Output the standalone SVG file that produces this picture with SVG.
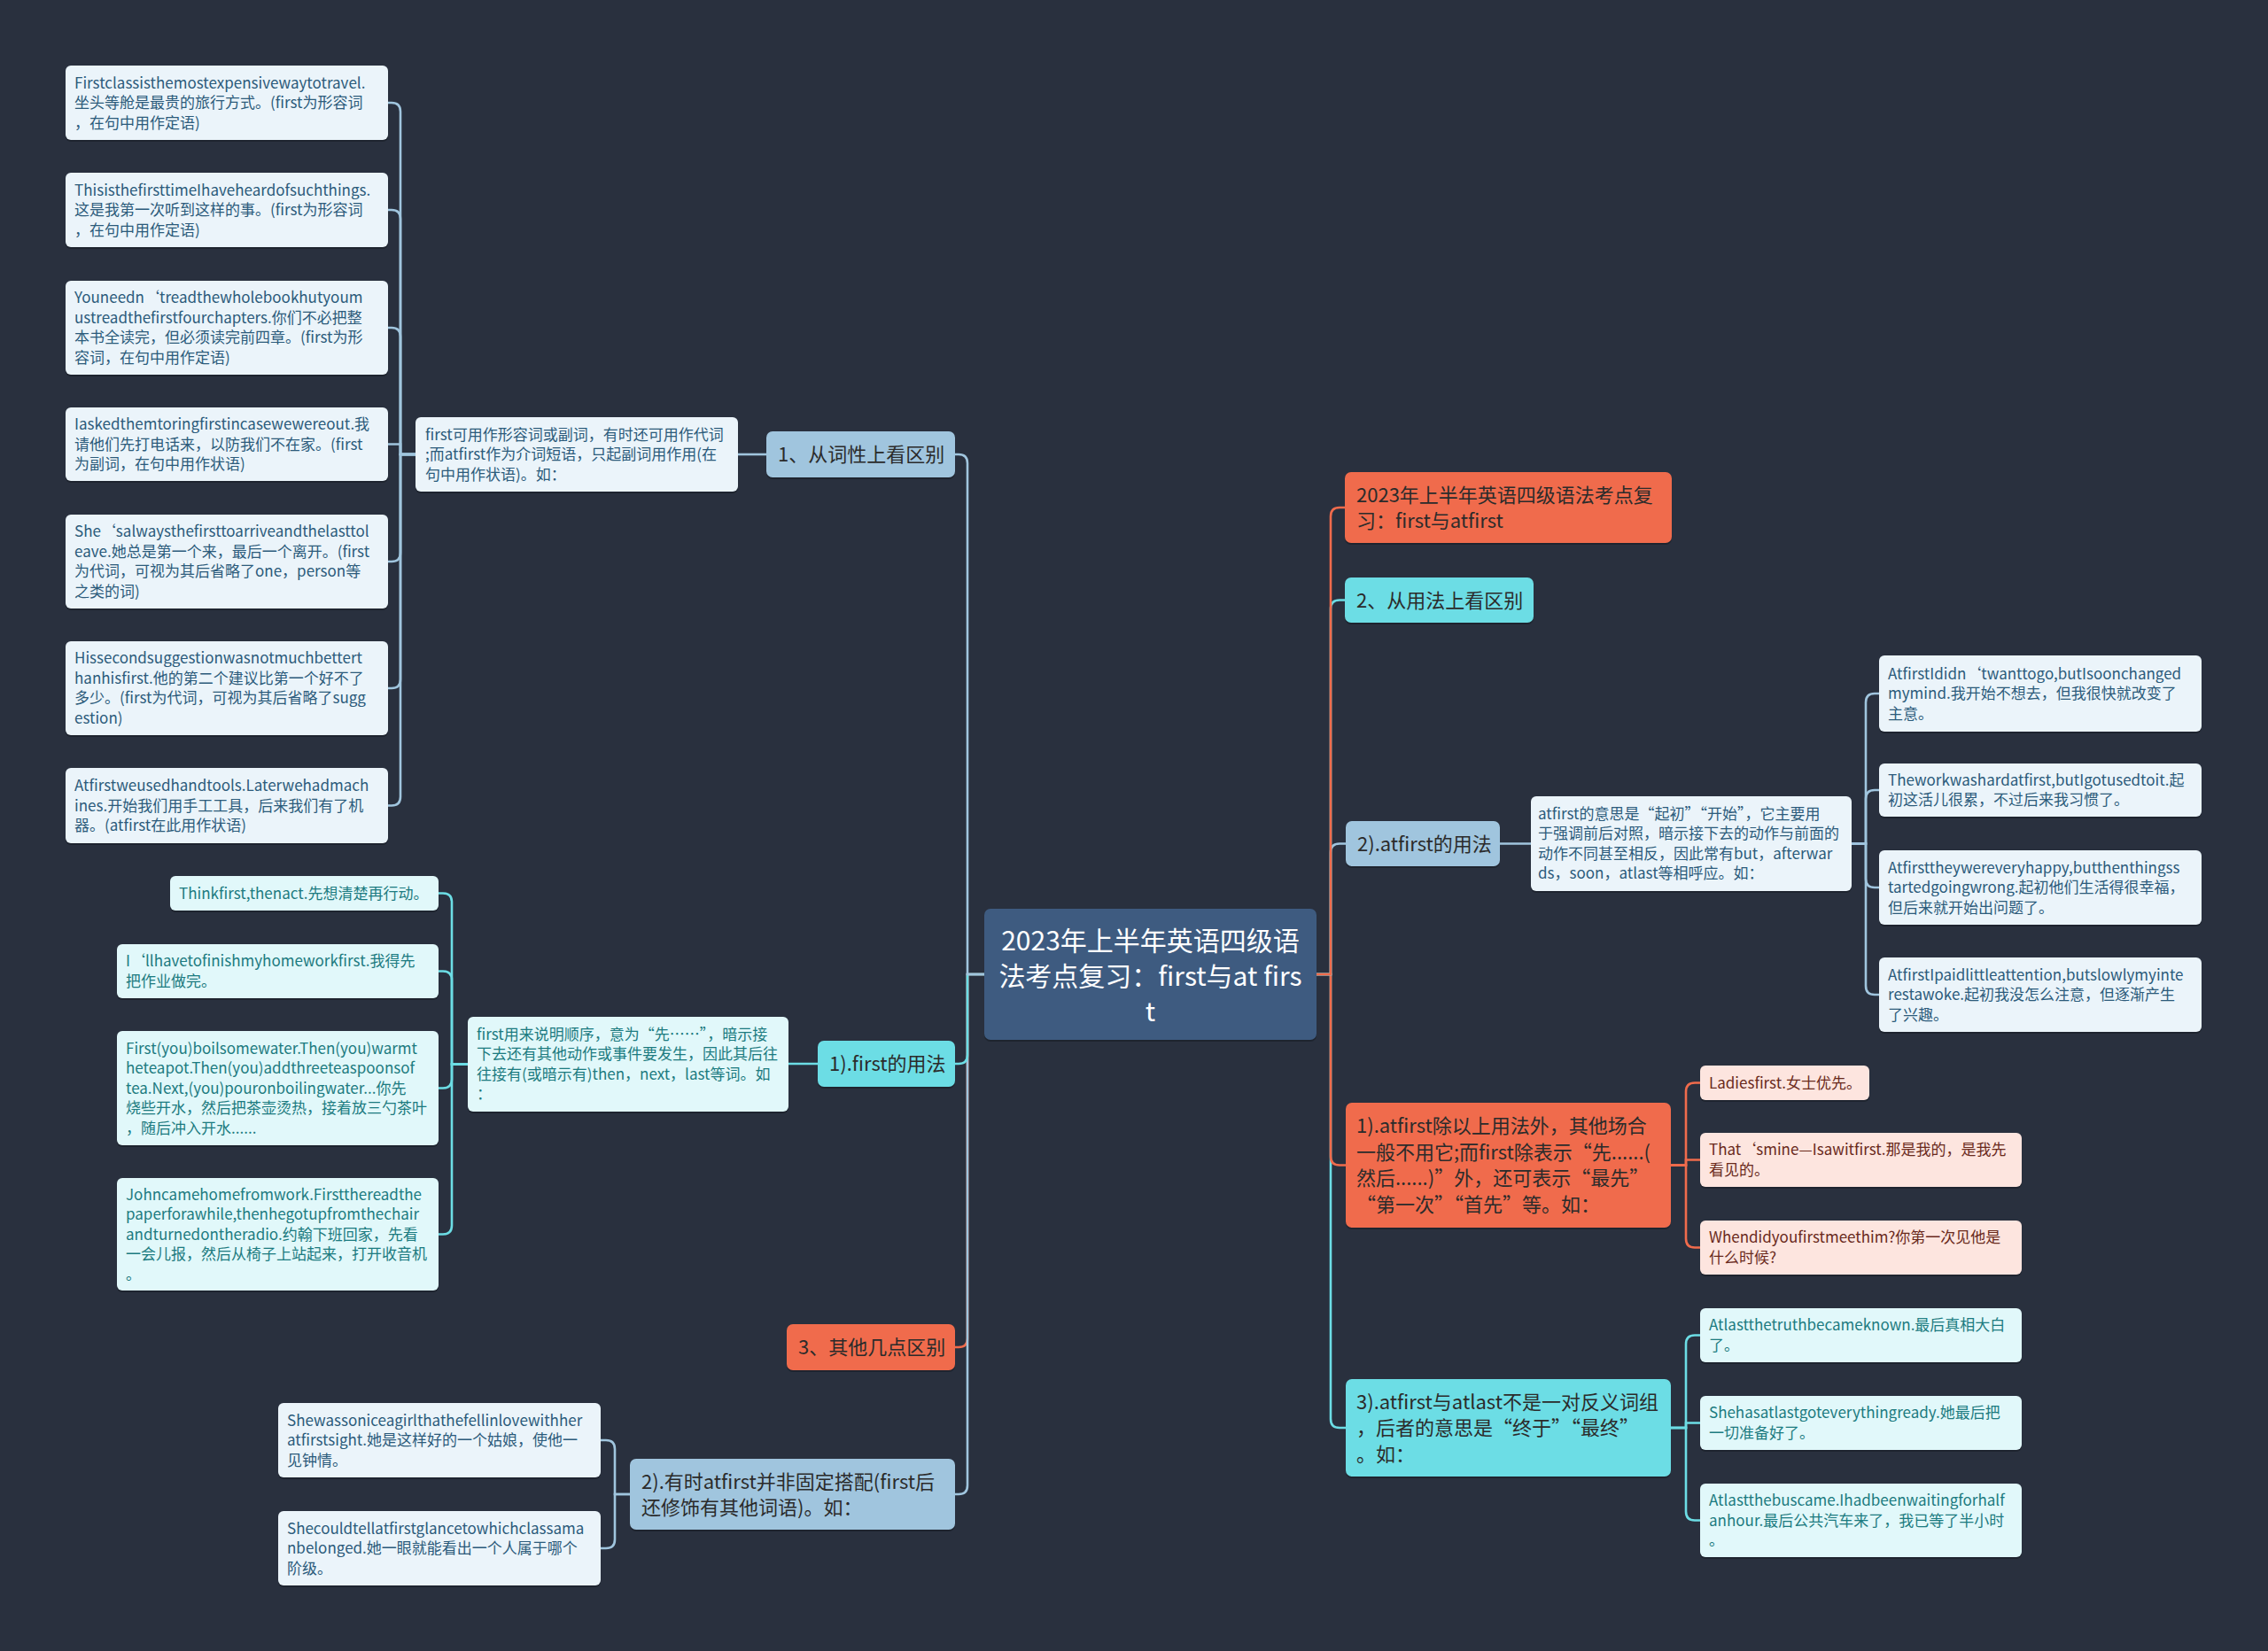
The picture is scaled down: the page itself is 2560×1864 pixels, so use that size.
<svg xmlns="http://www.w3.org/2000/svg" width="2560" height="1864" viewBox="0 0 2560 1864">
<style>
text{font-family:"Noto Sans CJK SC","Noto Sans",sans-serif;}
.s{font-size:17px;}
.m{font-size:22px;fill:#2b2b2b;}
.r{font-size:30px;fill:#ffffff;text-anchor:middle;}
.sh{fill:#161b23;opacity:0.55;}
.fb{fill:#a0c5de;} .fc{fill:#6cdde5;} .fo{fill:#f06b4c;} .froot{fill:#3e5b80;}
.cb{fill:#ebf4fa;} .cc{fill:#e1f8fa;} .co{fill:#fde5df;}
.tb{fill:#2c5b7b;} .tc{fill:#1c7b80;} .to{fill:#6a2a1c;}
.lb{stroke:#a0c5de;} .lc{stroke:#6cdde5;} .lo{stroke:#f06b4c;}
#connectors path{fill:none;stroke-width:2.6;}
</style>
<rect x="0" y="0" width="2560" height="1864" fill="#29303e"/>
<g id="connectors">
<path class="lo" d="M1111 1100 H1092 V1511 Q1092 1521 1082 1521 H1078"/>
<path class="lb" d="M1111 1100 H1092 V1677 Q1092 1687 1082 1687 H1078"/>
<path class="lc" d="M1111 1100 H1092 V1191 Q1092 1201 1082 1201 H1078"/>
<path class="lb" d="M1111 1100 H1092 V523 Q1092 513 1082 513 H1078"/>
<path class="lc" d="M1486 1100 H1502 V1602 Q1502 1612 1512 1612 H1519"/>
<path class="lo" d="M1486 1100 H1502 V1305.5 Q1502 1315.5 1512 1315.5 H1519"/>
<path class="lb" d="M1486 1100 H1502 V962.5 Q1502 952.5 1512 952.5 H1519"/>
<path class="lc" d="M1486 1100 H1502 V687.5 Q1502 677.5 1512 677.5 H1518"/>
<path class="lo" d="M1486 1100 H1502 V583 Q1502 573 1512 573 H1518"/>
<path class="lb" d="M865 513 H833"/>
<path class="lb" d="M469 513 H452 V126 Q452 116 442 116 H438"/>
<path class="lb" d="M469 513 H452 V247 Q452 237 442 237 H438"/>
<path class="lb" d="M469 513 H452 V380 Q452 370 442 370 H438"/>
<path class="lb" d="M469 513 H452 V501.5 H438"/>
<path class="lb" d="M469 513 H452 V624 Q452 634 442 634 H438"/>
<path class="lb" d="M469 513 H452 V767 Q452 777 442 777 H438"/>
<path class="lb" d="M469 513 H452 V899.5 Q452 909.5 442 909.5 H438"/>
<path class="lc" d="M923 1201 H890"/>
<path class="lc" d="M528 1201.5 H510 V1018.5 Q510 1008.5 500 1008.5 H495"/>
<path class="lc" d="M528 1201.5 H510 V1106.5 Q510 1096.5 500 1096.5 H495"/>
<path class="lc" d="M528 1201.5 H510 V1218.5 Q510 1228.5 500 1228.5 H495"/>
<path class="lc" d="M528 1201.5 H510 V1383.5 Q510 1393.5 500 1393.5 H495"/>
<path class="lb" d="M711 1687 H694 V1636 Q694 1626 684 1626 H678"/>
<path class="lb" d="M711 1687 H694 V1738 Q694 1748 684 1748 H678"/>
<path class="lb" d="M1693 952.5 H1728"/>
<path class="lb" d="M2090 952.5 H2106 V793 Q2106 783 2116 783 H2121"/>
<path class="lb" d="M2090 952.5 H2106 V902 Q2106 892 2116 892 H2121"/>
<path class="lb" d="M2090 952.5 H2106 V992 Q2106 1002 2116 1002 H2121"/>
<path class="lb" d="M2090 952.5 H2106 V1113 Q2106 1123 2116 1123 H2121"/>
<path class="lo" d="M1886 1315.5 H1903 V1232.5 Q1903 1222.5 1913 1222.5 H1919"/>
<path class="lo" d="M1886 1315.5 H1903 V1309.5 H1919"/>
<path class="lo" d="M1886 1315.5 H1903 V1398.5 Q1903 1408.5 1913 1408.5 H1919"/>
<path class="lc" d="M1886 1612 H1903 V1517.5 Q1903 1507.5 1913 1507.5 H1919"/>
<path class="lc" d="M1886 1612 H1903 V1606.5 H1919"/>
<path class="lc" d="M1886 1612 H1903 V1706.5 Q1903 1716.5 1913 1716.5 H1919"/>
</g>

<g id="root">
<rect class="sh" x="1111" y="1028" width="375" height="148" rx="7"/>
<rect class="froot" x="1111" y="1026" width="375" height="148" rx="7"/>
<text class="r"><tspan x="1298.5" y="1073">2023年上半年英语四级语</tspan><tspan x="1298.5" y="1113">法考点复习：first与at firs</tspan><tspan x="1298.5" y="1153">t</tspan></text>
</g>

<!-- left branch 1 -->
<g id="n-cixing">
<rect class="sh" x="865" y="489" width="213" height="52" rx="7"/>
<rect class="fb" x="865" y="487" width="213" height="52" rx="7"/>
<text class="m"><tspan x="878" y="521">1、从词性上看区别</tspan></text>
</g>
<g id="n-cixing-desc">
<rect class="sh" x="469" y="473" width="364" height="84" rx="6"/>
<rect class="cb" x="469" y="471" width="364" height="84" rx="6"/>
<text class="s tb"><tspan x="480" y="496.5">first可用作形容词或副词，有时还可用作代词</tspan><tspan x="480" y="519">;而atfirst作为介词短语，只起副词用作用(在</tspan><tspan x="480" y="541.5">句中用作状语)。如：</tspan></text>
</g>
<g id="n-ex1">
<rect class="sh" x="74" y="76" width="364" height="84" rx="6"/>
<rect class="cb" x="74" y="74" width="364" height="84" rx="6"/>
<text class="s tb"><tspan x="84" y="99.5">Firstclassisthemostexpensivewaytotravel.</tspan><tspan x="84" y="122">坐头等舱是最贵的旅行方式。(first为形容词</tspan><tspan x="84" y="144.5">，在句中用作定语)</tspan></text>
</g>
<g id="n-ex2">
<rect class="sh" x="74" y="197" width="364" height="84" rx="6"/>
<rect class="cb" x="74" y="195" width="364" height="84" rx="6"/>
<text class="s tb"><tspan x="84" y="220.5">ThisisthefirsttimeIhaveheardofsuchthings.</tspan><tspan x="84" y="243">这是我第一次听到这样的事。(first为形容词</tspan><tspan x="84" y="265.5">，在句中用作定语)</tspan></text>
</g>
<g id="n-ex3">
<rect class="sh" x="74" y="319" width="364" height="106" rx="6"/>
<rect class="cb" x="74" y="317" width="364" height="106" rx="6"/>
<text class="s tb"><tspan x="84" y="342.25">Youneedn‘treadthewholebookhutyoum</tspan><tspan x="84" y="364.75">ustreadthefirstfourchapters.你们不必把整</tspan><tspan x="84" y="387.25">本书全读完，但必须读完前四章。(first为形</tspan><tspan x="84" y="409.75">容词，在句中用作定语)</tspan></text>
</g>
<g id="n-ex4">
<rect class="sh" x="74" y="462" width="364" height="83" rx="6"/>
<rect class="cb" x="74" y="460" width="364" height="83" rx="6"/>
<text class="s tb"><tspan x="84" y="485">Iaskedthemtoringfirstincasewewereout.我</tspan><tspan x="84" y="507.5">请他们先打电话来，以防我们不在家。(first</tspan><tspan x="84" y="530">为副词，在句中用作状语)</tspan></text>
</g>
<g id="n-ex5">
<rect class="sh" x="74" y="583" width="364" height="106" rx="6"/>
<rect class="cb" x="74" y="581" width="364" height="106" rx="6"/>
<text class="s tb"><tspan x="84" y="606.25">She‘salwaysthefirsttoarriveandthelasttol</tspan><tspan x="84" y="628.75">eave.她总是第一个来，最后一个离开。(first</tspan><tspan x="84" y="651.25">为代词，可视为其后省略了one，person等</tspan><tspan x="84" y="673.75">之类的词)</tspan></text>
</g>
<g id="n-ex6">
<rect class="sh" x="74" y="726" width="364" height="106" rx="6"/>
<rect class="cb" x="74" y="724" width="364" height="106" rx="6"/>
<text class="s tb"><tspan x="84" y="749.25">Hissecondsuggestionwasnotmuchbettert</tspan><tspan x="84" y="771.75">hanhisfirst.他的第二个建议比第一个好不了</tspan><tspan x="84" y="794.25">多少。(first为代词，可视为其后省略了sugg</tspan><tspan x="84" y="816.75">estion)</tspan></text>
</g>
<g id="n-ex7">
<rect class="sh" x="74" y="869" width="364" height="85" rx="6"/>
<rect class="cb" x="74" y="867" width="364" height="85" rx="6"/>
<text class="s tb"><tspan x="84" y="893">Atfirstweusedhandtools.Laterwehadmach</tspan><tspan x="84" y="915.5">ines.开始我们用手工工具，后来我们有了机</tspan><tspan x="84" y="938">器。(atfirst在此用作状语)</tspan></text>
</g>

<!-- left branch 2 -->
<g id="n-first">
<rect class="sh" x="923" y="1177" width="155" height="52" rx="7"/>
<rect class="fc" x="923" y="1175" width="155" height="52" rx="7"/>
<text class="m"><tspan x="936" y="1209">1).first的用法</tspan></text>
</g>
<g id="n-first-desc">
<rect class="sh" x="528" y="1150" width="362" height="107" rx="6"/>
<rect class="cc" x="528" y="1148" width="362" height="107" rx="6"/>
<text class="s tc"><tspan x="538" y="1173.75">first用来说明顺序，意为“先……”，暗示接</tspan><tspan x="538" y="1196.25">下去还有其他动作或事件要发生，因此其后往</tspan><tspan x="538" y="1218.75">往接有(或暗示有)then，next，last等词。如</tspan><tspan x="538" y="1241.25">：</tspan></text>
</g>
<g id="n-f1">
<rect class="sh" x="192" y="991" width="303" height="39" rx="6"/>
<rect class="cc" x="192" y="989" width="303" height="39" rx="6"/>
<text class="s tc"><tspan x="202" y="1014.5">Thinkfirst,thenact.先想清楚再行动。</tspan></text>
</g>
<g id="n-f2">
<rect class="sh" x="132" y="1068" width="363" height="61" rx="6"/>
<rect class="cc" x="132" y="1066" width="363" height="61" rx="6"/>
<text class="s tc"><tspan x="142" y="1091.25">I‘llhavetofinishmyhomeworkfirst.我得先</tspan><tspan x="142" y="1113.75">把作业做完。</tspan></text>
</g>
<g id="n-f3">
<rect class="sh" x="132" y="1166" width="363" height="129" rx="6"/>
<rect class="cc" x="132" y="1164" width="363" height="129" rx="6"/>
<text class="s tc"><tspan x="142" y="1189.5">First(you)boilsomewater.Then(you)warmt</tspan><tspan x="142" y="1212">heteapot.Then(you)addthreeteaspoonsof</tspan><tspan x="142" y="1234.5">tea.Next,(you)pouronboilingwater...你先</tspan><tspan x="142" y="1257">烧些开水，然后把茶壶烫热，接着放三勺茶叶</tspan><tspan x="142" y="1279.5">，随后冲入开水......</tspan></text>
</g>
<g id="n-f4">
<rect class="sh" x="132" y="1332" width="363" height="127" rx="6"/>
<rect class="cc" x="132" y="1330" width="363" height="127" rx="6"/>
<text class="s tc"><tspan x="142" y="1354.5">Johncamehomefromwork.Firstthereadthe</tspan><tspan x="142" y="1377">paperforawhile,thenhegotupfromthechair</tspan><tspan x="142" y="1399.5">andturnedontheradio.约翰下班回家，先看</tspan><tspan x="142" y="1422">一会儿报，然后从椅子上站起来，打开收音机</tspan><tspan x="142" y="1444.5">。</tspan></text>
</g>

<!-- left branch 3, 4 -->
<g id="n-other">
<rect class="sh" x="888" y="1497" width="190" height="52" rx="7"/>
<rect class="fo" x="888" y="1495" width="190" height="52" rx="7"/>
<text class="m"><tspan x="901" y="1529">3、其他几点区别</tspan></text>
</g>
<g id="n-sometimes">
<rect class="sh" x="711" y="1649" width="367" height="80" rx="7"/>
<rect class="fb" x="711" y="1647" width="367" height="80" rx="7"/>
<text class="m"><tspan x="724" y="1680.5">2).有时atfirst并非固定搭配(first后</tspan><tspan x="724" y="1709.5">还修饰有其他词语)。如：</tspan></text>
</g>
<g id="n-s1">
<rect class="sh" x="314" y="1586" width="364" height="84" rx="6"/>
<rect class="cb" x="314" y="1584" width="364" height="84" rx="6"/>
<text class="s tb"><tspan x="324" y="1609.5">Shewassoniceagirlthathefellinlovewithher</tspan><tspan x="324" y="1632">atfirstsight.她是这样好的一个姑娘，使他一</tspan><tspan x="324" y="1654.5">见钟情。</tspan></text>
</g>
<g id="n-s2">
<rect class="sh" x="314" y="1708" width="364" height="84" rx="6"/>
<rect class="cb" x="314" y="1706" width="364" height="84" rx="6"/>
<text class="s tb"><tspan x="324" y="1731.5">Shecouldtellatfirstglancetowhichclassama</tspan><tspan x="324" y="1754">nbelonged.她一眼就能看出一个人属于哪个</tspan><tspan x="324" y="1776.5">阶级。</tspan></text>
</g>

<!-- right side -->
<g id="n-title">
<rect class="sh" x="1518" y="535" width="369" height="80" rx="7"/>
<rect class="fo" x="1518" y="533" width="369" height="80" rx="7"/>
<text class="m"><tspan x="1531" y="566.5">2023年上半年英语四级语法考点复</tspan><tspan x="1531" y="595.5">习：first与atfirst</tspan></text>
</g>
<g id="n-yongfa">
<rect class="sh" x="1518" y="654" width="213" height="51" rx="7"/>
<rect class="fc" x="1518" y="652" width="213" height="51" rx="7"/>
<text class="m"><tspan x="1531" y="685.5">2、从用法上看区别</tspan></text>
</g>
<g id="n-atfirst">
<rect class="sh" x="1519" y="929" width="174" height="51" rx="7"/>
<rect class="fb" x="1519" y="927" width="174" height="51" rx="7"/>
<text class="m"><tspan x="1532" y="960.5">2).atfirst的用法</tspan></text>
</g>
<g id="n-atfirst-desc">
<rect class="sh" x="1728" y="901" width="362" height="107" rx="6"/>
<rect class="cb" x="1728" y="899" width="362" height="107" rx="6"/>
<text class="s tb"><tspan x="1736" y="924.75">atfirst的意思是“起初”“开始”，它主要用</tspan><tspan x="1736" y="947.25">于强调前后对照，暗示接下去的动作与前面的</tspan><tspan x="1736" y="969.75">动作不同甚至相反，因此常有but，afterwar</tspan><tspan x="1736" y="992.25">ds，soon，atlast等相呼应。如：</tspan></text>
</g>
<g id="n-a1">
<rect class="sh" x="2121" y="742" width="364" height="86" rx="6"/>
<rect class="cb" x="2121" y="740" width="364" height="86" rx="6"/>
<text class="s tb"><tspan x="2131" y="766.5">AtfirstIdidn‘twanttogo,butIsoonchanged</tspan><tspan x="2131" y="789">mymind.我开始不想去，但我很快就改变了</tspan><tspan x="2131" y="811.5">主意。</tspan></text>
</g>
<g id="n-a2">
<rect class="sh" x="2121" y="864" width="364" height="60" rx="6"/>
<rect class="cb" x="2121" y="862" width="364" height="60" rx="6"/>
<text class="s tb"><tspan x="2131" y="886.75">Theworkwashardatfirst,butIgotusedtoit.起</tspan><tspan x="2131" y="909.25">初这活儿很累，不过后来我习惯了。</tspan></text>
</g>
<g id="n-a3">
<rect class="sh" x="2121" y="962" width="364" height="84" rx="6"/>
<rect class="cb" x="2121" y="960" width="364" height="84" rx="6"/>
<text class="s tb"><tspan x="2131" y="985.5">Atfirsttheywereveryhappy,butthenthingss</tspan><tspan x="2131" y="1008">tartedgoingwrong.起初他们生活得很幸福，</tspan><tspan x="2131" y="1030.5">但后来就开始出问题了。</tspan></text>
</g>
<g id="n-a4">
<rect class="sh" x="2121" y="1083" width="364" height="84" rx="6"/>
<rect class="cb" x="2121" y="1081" width="364" height="84" rx="6"/>
<text class="s tb"><tspan x="2131" y="1106.5">AtfirstIpaidlittleattention,butslowlymyinte</tspan><tspan x="2131" y="1129">restawoke.起初我没怎么注意，但逐渐产生</tspan><tspan x="2131" y="1151.5">了兴趣。</tspan></text>
</g>
<g id="n-except">
<rect class="sh" x="1519" y="1247" width="367" height="141" rx="7"/>
<rect class="fo" x="1519" y="1245" width="367" height="141" rx="7"/>
<text class="m"><tspan x="1531" y="1279.25">1).atfirst除以上用法外，其他场合</tspan><tspan x="1531" y="1308.75">一般不用它;而first除表示“先......(</tspan><tspan x="1531" y="1338.25">然后......)”外，还可表示“最先”</tspan><tspan x="1531" y="1367.75">“第一次”“首先”等。如：</tspan></text>
</g>
<g id="n-e1">
<rect class="sh" x="1919" y="1205" width="191" height="39" rx="6"/>
<rect class="co" x="1919" y="1203" width="191" height="39" rx="6"/>
<text class="s to"><tspan x="1929" y="1228.5">Ladiesfirst.女士优先。</tspan></text>
</g>
<g id="n-e2">
<rect class="sh" x="1919" y="1281" width="363" height="61" rx="6"/>
<rect class="co" x="1919" y="1279" width="363" height="61" rx="6"/>
<text class="s to"><tspan x="1929" y="1304.25">That‘smine—Isawitfirst.那是我的，是我先</tspan><tspan x="1929" y="1326.75">看见的。</tspan></text>
</g>
<g id="n-e3">
<rect class="sh" x="1919" y="1380" width="363" height="61" rx="6"/>
<rect class="co" x="1919" y="1378" width="363" height="61" rx="6"/>
<text class="s to"><tspan x="1929" y="1403.25">Whendidyoufirstmeethim?你第一次见他是</tspan><tspan x="1929" y="1425.75">什么时候?</tspan></text>
</g>
<g id="n-atlast">
<rect class="sh" x="1519" y="1559" width="367" height="110" rx="7"/>
<rect class="fc" x="1519" y="1557" width="367" height="110" rx="7"/>
<text class="m"><tspan x="1531" y="1590.5">3).atfirst与atlast不是一对反义词组</tspan><tspan x="1531" y="1620">，后者的意思是“终于”“最终”</tspan><tspan x="1531" y="1649.5">。如：</tspan></text>
</g>
<g id="n-l1">
<rect class="sh" x="1919" y="1479" width="363" height="61" rx="6"/>
<rect class="cc" x="1919" y="1477" width="363" height="61" rx="6"/>
<text class="s tc"><tspan x="1929" y="1502.25">Atlastthetruthbecameknown.最后真相大白</tspan><tspan x="1929" y="1524.75">了。</tspan></text>
</g>
<g id="n-l2">
<rect class="sh" x="1919" y="1578" width="363" height="61" rx="6"/>
<rect class="cc" x="1919" y="1576" width="363" height="61" rx="6"/>
<text class="s tc"><tspan x="1929" y="1601.25">Shehasatlastgoteverythingready.她最后把</tspan><tspan x="1929" y="1623.75">一切准备好了。</tspan></text>
</g>
<g id="n-l3">
<rect class="sh" x="1919" y="1677" width="363" height="83" rx="6"/>
<rect class="cc" x="1919" y="1675" width="363" height="83" rx="6"/>
<text class="s tc"><tspan x="1929" y="1700">Atlastthebuscame.Ihadbeenwaitingforhalf</tspan><tspan x="1929" y="1722.5">anhour.最后公共汽车来了，我已等了半小时</tspan><tspan x="1929" y="1745">。</tspan></text>
</g>
</svg>
